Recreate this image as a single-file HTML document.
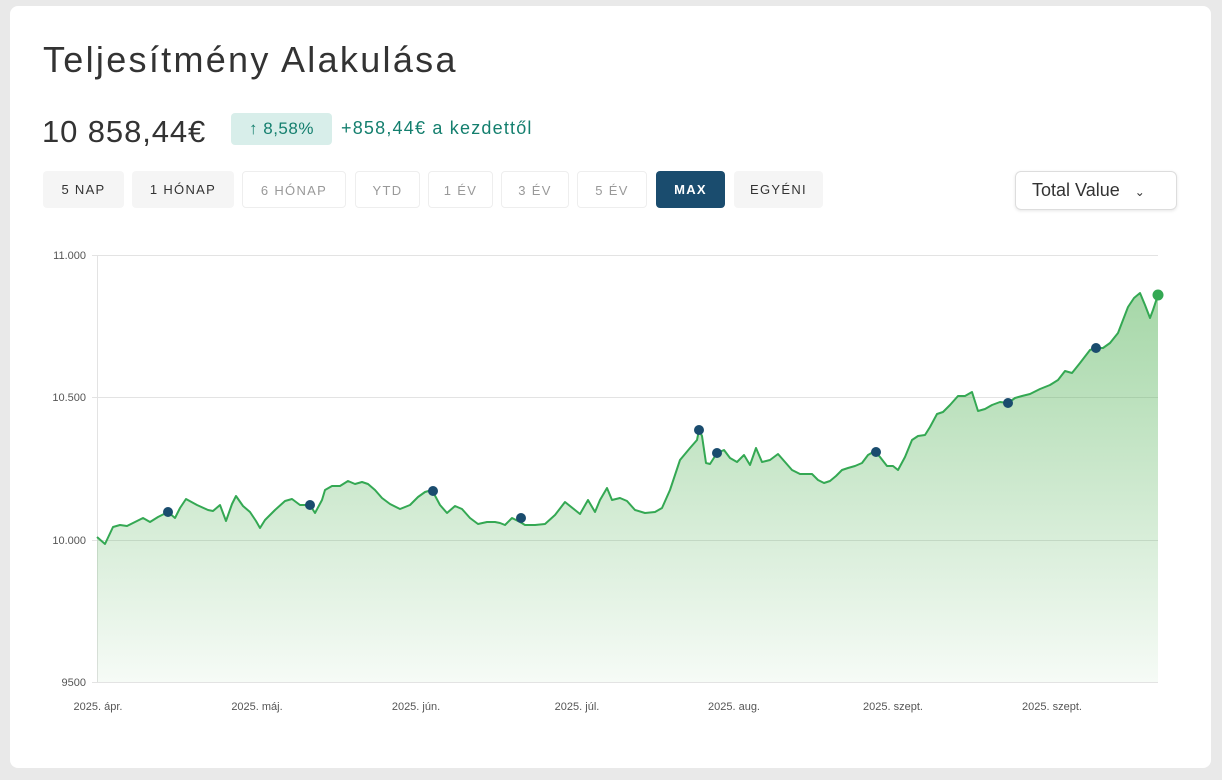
<!DOCTYPE html>
<html><head><meta charset="utf-8"><style>
body{margin:0;background:#e9e9e9;font-family:"Liberation Sans",sans-serif;width:1222px;height:780px;overflow:hidden}
.card{position:absolute;left:10px;top:6px;width:1201px;height:762px;background:#fff;border-radius:8px}
h1{position:absolute;left:33px;top:33px;margin:0;font-size:36px;font-weight:normal;color:#333;letter-spacing:2.3px}
.val{position:absolute;left:32px;top:108px;font-size:31px;color:#333;letter-spacing:0.9px}
.badge{position:absolute;left:221px;top:107px;width:101px;height:32px;background:#d8eeea;border-radius:4px;color:#147f6e;font-size:17px;line-height:32px;text-align:center;letter-spacing:0.5px}
.chg{position:absolute;left:331px;top:112px;font-size:18px;color:#147f6e;letter-spacing:1.2px}
.btn{position:absolute;top:165px;height:37px;border-radius:4px;font-size:13px;letter-spacing:1.3px;line-height:37px;text-align:center;box-sizing:border-box}
.g{background:#f5f5f5;color:#333}
.o{border:1px solid #eee;color:#999}
.a{background:#1a4c6e;color:#fff;font-weight:bold}
.sel{position:absolute;left:1005px;top:165px;width:162px;height:39px;border:1px solid #ddd;border-radius:6px;box-shadow:0 1px 3px rgba(0,0,0,.1);box-sizing:border-box;font-size:18px;color:#333;line-height:37px;padding-left:16px}
</style></head><body>
<div class="card">
<h1>Teljesítmény Alakulása</h1>
<div class="val">10 858,44€</div>
<div class="badge">↑ 8,58%</div>
<div class="chg">+858,44€ a kezdettől</div>
<div class="btn g" style="left:33px;width:81px">5 NAP</div>
<div class="btn g" style="left:122px;width:102px">1 HÓNAP</div>
<div class="btn o" style="left:232px;width:104px">6 HÓNAP</div>
<div class="btn o" style="left:345px;width:65px">YTD</div>
<div class="btn o" style="left:418px;width:65px">1 ÉV</div>
<div class="btn o" style="left:491px;width:68px">3 ÉV</div>
<div class="btn o" style="left:567px;width:70px">5 ÉV</div>
<div class="btn a" style="left:646px;width:69px">MAX</div>
<div class="btn g" style="left:724px;width:89px">EGYÉNI</div>
<div class="sel">Total Value <span style="font-size:12px;margin-left:10px">&#8964;</span></div>
</div>
<svg style="position:absolute;left:0;top:0" width="1222" height="780">
<defs><linearGradient id="gr" x1="0" y1="0" x2="0" y2="1"><stop offset="0" stop-color="#4caf50" stop-opacity=".5"/><stop offset="1" stop-color="#4caf50" stop-opacity=".05"/></linearGradient></defs>
<g stroke="#e3e3e3" stroke-width="1">
<line x1="92" y1="255.5" x2="1158" y2="255.5"/><line x1="92" y1="397.5" x2="1158" y2="397.5"/><line x1="92" y1="540.5" x2="1158" y2="540.5"/><line x1="92" y1="682.5" x2="1158" y2="682.5"/><line x1="97.5" y1="255" x2="97.5" y2="682"/></g>
<g font-size="11" fill="#555" text-anchor="end"><text x="86" y="259">11.000</text><text x="86" y="401">10.500</text><text x="86" y="544">10.000</text><text x="86" y="686">9500</text></g>
<g font-size="11" fill="#555" text-anchor="middle"><text x="98" y="710">2025. ápr.</text><text x="257" y="710">2025. máj.</text><text x="416" y="710">2025. jún.</text><text x="577" y="710">2025. júl.</text><text x="734" y="710">2025. aug.</text><text x="893" y="710">2025. szept.</text><text x="1052" y="710">2025. szept.</text></g>
<path fill="url(#gr)" d="M97,537 L105,544 113,527 120,525 127,526 137,521 143,518 150,522 158,517 168,512 175,518 180,508 186,499 197,505 208,510 213,511 220,505 226,521 232,504 236,496 243,506 250,512 256,521 260,528 265,520 275,510 285,501 292,499 300,505 310,505 315,513 322,500 325,490 332,486 340,486 348,481 355,484 362,482 368,484 375,490 382,498 390,504 400,509 410,505 418,497 425,492 432,490 440,505 447,513 455,506 462,509 470,518 478,524 487,522 495,522 500,523 505,525 512,518 520,522 525,525 535,525 545,524 555,515 565,502 575,510 580,514 588,500 595,512 600,500 607,488 612,500 620,498 627,501 635,510 645,513 655,512 662,508 670,490 680,460 690,448 697,440 699,430 702,436 706,463 710,464 717,453 724,450 730,458 737,462 744,455 750,465 756,448 762,462 770,460 778,454 785,462 792,470 800,474 812,474 818,480 824,483 830,481 836,476 842,470 848,468 855,466 862,463 868,455 875,451 880,457 887,466 893,466 898,470 905,457 912,440 918,436 925,435 930,427 937,414 943,412 950,405 958,396 965,396 972,392 978,411 985,409 992,405 1000,402 1008,403 1015,398 1022,396 1030,394 1040,389 1050,385 1058,380 1065,371 1072,373 1080,363 1090,350 1096,348 1103,348 1110,343 1118,333 1123,320 1128,307 1134,298 1140,293 1145,305 1150,318 1153,310 1158,295 L1158,682 L97,682 Z"/>
<polyline fill="none" stroke="#34a853" stroke-width="2" stroke-linejoin="round" points="97,537 105,544 113,527 120,525 127,526 137,521 143,518 150,522 158,517 168,512 175,518 180,508 186,499 197,505 208,510 213,511 220,505 226,521 232,504 236,496 243,506 250,512 256,521 260,528 265,520 275,510 285,501 292,499 300,505 310,505 315,513 322,500 325,490 332,486 340,486 348,481 355,484 362,482 368,484 375,490 382,498 390,504 400,509 410,505 418,497 425,492 432,490 440,505 447,513 455,506 462,509 470,518 478,524 487,522 495,522 500,523 505,525 512,518 520,522 525,525 535,525 545,524 555,515 565,502 575,510 580,514 588,500 595,512 600,500 607,488 612,500 620,498 627,501 635,510 645,513 655,512 662,508 670,490 680,460 690,448 697,440 699,430 702,436 706,463 710,464 717,453 724,450 730,458 737,462 744,455 750,465 756,448 762,462 770,460 778,454 785,462 792,470 800,474 812,474 818,480 824,483 830,481 836,476 842,470 848,468 855,466 862,463 868,455 875,451 880,457 887,466 893,466 898,470 905,457 912,440 918,436 925,435 930,427 937,414 943,412 950,405 958,396 965,396 972,392 978,411 985,409 992,405 1000,402 1008,403 1015,398 1022,396 1030,394 1040,389 1050,385 1058,380 1065,371 1072,373 1080,363 1090,350 1096,348 1103,348 1110,343 1118,333 1123,320 1128,307 1134,298 1140,293 1145,305 1150,318 1153,310 1158,295"/>
<g fill="#1a4c6e"><circle cx="168" cy="512" r="5"/><circle cx="310" cy="505" r="5"/><circle cx="433" cy="491" r="5"/><circle cx="521" cy="518" r="5"/><circle cx="699" cy="430" r="5"/><circle cx="717" cy="453" r="5"/><circle cx="876" cy="452" r="5"/><circle cx="1008" cy="403" r="5"/><circle cx="1096" cy="348" r="5"/></g>
<circle cx="1158" cy="295" r="5.5" fill="#34a853"/>
</svg>
</body></html>
